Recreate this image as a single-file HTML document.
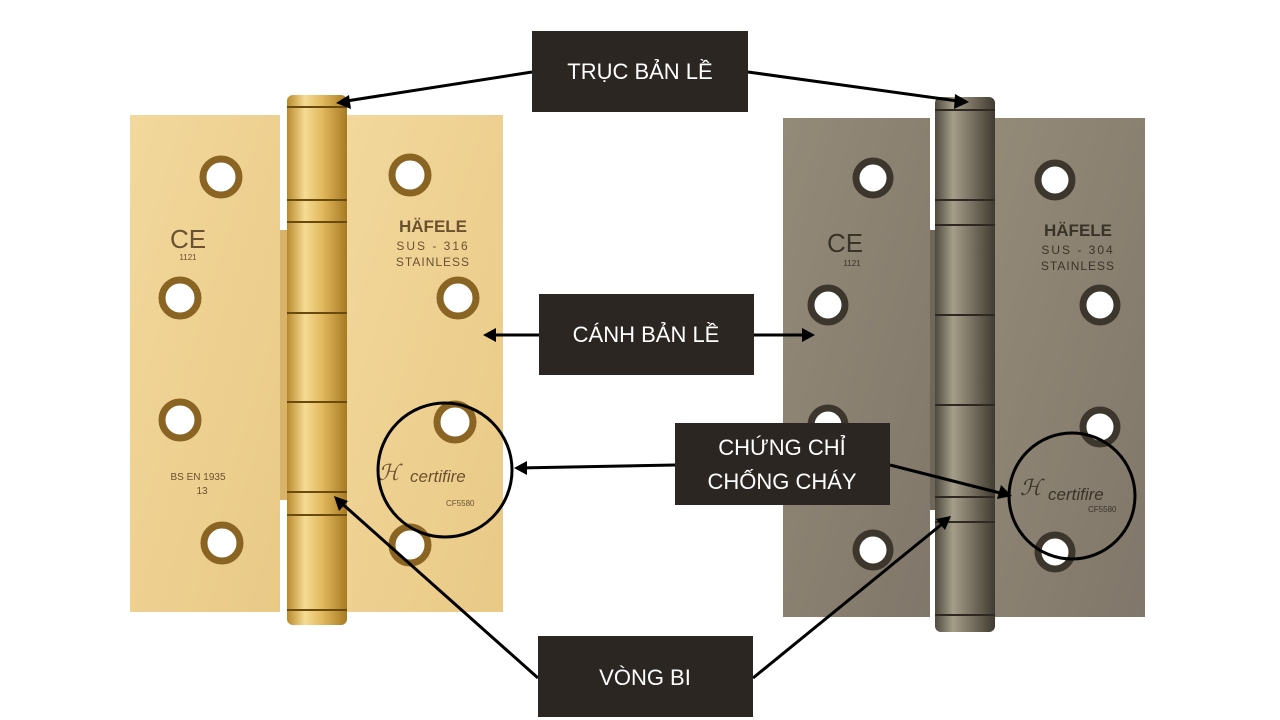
<!DOCTYPE html>
<html><head><meta charset="utf-8"><style>
html,body{margin:0;padding:0;background:#fff;}
svg{display:block}
text{font-family:"Liberation Sans",sans-serif}
</style></head><body>
<svg width="1280" height="720" viewBox="0 0 1280 720" xmlns="http://www.w3.org/2000/svg">
<defs>
<linearGradient id="gb" x1="0" x2="1" y1="0" y2="0">
<stop offset="0" stop-color="#b88a2e"/><stop offset="0.3" stop-color="#f6dc92"/><stop offset="0.6" stop-color="#e0b75c"/><stop offset="1" stop-color="#a77a22"/></linearGradient>
<linearGradient id="sb" x1="0" x2="1" y1="0" y2="0">
<stop offset="0" stop-color="#4e4a3e"/><stop offset="0.3" stop-color="#a59e8a"/><stop offset="0.6" stop-color="#7a7262"/><stop offset="1" stop-color="#3f3b31"/></linearGradient>
<linearGradient id="gl" x1="0" x2="1" y1="0" y2="1">
<stop offset="0" stop-color="#f2d89c"/><stop offset="1" stop-color="#e9c986"/></linearGradient>
<linearGradient id="sl" x1="0" x2="1" y1="0" y2="1">
<stop offset="0" stop-color="#948a78"/><stop offset="1" stop-color="#80776a"/></linearGradient>
</defs>
<!-- left hinge -->
<rect x="130" y="115" width="150" height="497" fill="url(#gl)"/>
<rect x="347" y="115" width="156" height="497" fill="url(#gl)"/>
<rect x="280" y="230" width="10" height="270" fill="#d9b36a"/>
<rect x="287" y="95" width="60" height="530" rx="6" fill="url(#gb)"/>
<g stroke="#6b4a12" stroke-width="2">
<line x1="287" y1="107" x2="347" y2="107"/><line x1="287" y1="200" x2="347" y2="200"/><line x1="287" y1="222" x2="347" y2="222"/>
<line x1="287" y1="313" x2="347" y2="313"/><line x1="287" y1="402" x2="347" y2="402"/><line x1="287" y1="492" x2="347" y2="492"/><line x1="287" y1="515" x2="347" y2="515"/><line x1="287" y1="610" x2="347" y2="610"/></g>
<g fill="#fff" stroke="#8a6422" stroke-width="7">
<circle cx="221" cy="177" r="18"/><circle cx="180" cy="298" r="18"/><circle cx="180" cy="420" r="18"/><circle cx="222" cy="543" r="18"/>
<circle cx="410" cy="175" r="18"/><circle cx="458" cy="298" r="18"/><circle cx="455" cy="422" r="18"/><circle cx="410" cy="545" r="18"/></g>
<g fill="#6a5230">
<text x="188" y="248" font-size="26" text-anchor="middle">CE</text>
<text x="188" y="260" font-size="8" text-anchor="middle">1121</text>
<text x="433" y="232" font-size="17" font-weight="bold" text-anchor="middle">HÄFELE</text>
<text x="433" y="250" font-size="12" text-anchor="middle" letter-spacing="2">SUS - 316</text>
<text x="433" y="266" font-size="12" text-anchor="middle" letter-spacing="1">STAINLESS</text>
<text x="198" y="480" font-size="10" text-anchor="middle">BS EN 1935</text>
<text x="202" y="494" font-size="10" text-anchor="middle">13</text>
<text x="410" y="482" font-size="17" font-style="italic">certifire</text>
<text x="446" y="506" font-size="8">CF5580</text>
<text x="378" y="480" font-size="22" font-style="italic">ℋ</text>
</g>
<!-- right hinge -->
<rect x="783" y="118" width="147" height="499" fill="url(#sl)"/>
<rect x="995" y="118" width="150" height="499" fill="url(#sl)"/>
<rect x="930" y="230" width="10" height="280" fill="#6f675a"/>
<rect x="935" y="97" width="60" height="535" rx="6" fill="url(#sb)"/>
<g stroke="#2e2a22" stroke-width="2">
<line x1="935" y1="110" x2="995" y2="110"/><line x1="935" y1="200" x2="995" y2="200"/><line x1="935" y1="225" x2="995" y2="225"/>
<line x1="935" y1="315" x2="995" y2="315"/><line x1="935" y1="405" x2="995" y2="405"/><line x1="935" y1="497" x2="995" y2="497"/><line x1="935" y1="522" x2="995" y2="522"/><line x1="935" y1="615" x2="995" y2="615"/></g>
<g fill="#fff" stroke="#3c362c" stroke-width="7">
<circle cx="873" cy="178" r="17"/><circle cx="828" cy="305" r="17"/><circle cx="828" cy="425" r="17"/><circle cx="873" cy="550" r="17"/>
<circle cx="1055" cy="180" r="17"/><circle cx="1100" cy="305" r="17"/><circle cx="1100" cy="427" r="17"/><circle cx="1055" cy="552" r="17"/></g>
<g fill="#3a3428">
<text x="845" y="252" font-size="26" text-anchor="middle">CE</text>
<text x="852" y="266" font-size="8" text-anchor="middle">1121</text>
<text x="1078" y="236" font-size="17" font-weight="bold" text-anchor="middle">HÄFELE</text>
<text x="1078" y="254" font-size="12" text-anchor="middle" letter-spacing="2">SUS - 304</text>
<text x="1078" y="270" font-size="12" text-anchor="middle" letter-spacing="1">STAINLESS</text>
<text x="1048" y="500" font-size="17" font-style="italic">certifire</text>
<text x="1088" y="512" font-size="8">CF5580</text>
<text x="1020" y="495" font-size="22" font-style="italic">ℋ</text>
</g>
<!-- callout circles -->
<circle cx="445" cy="470" r="67" fill="none" stroke="#000" stroke-width="3"/>
<circle cx="1072" cy="496" r="63" fill="none" stroke="#000" stroke-width="3"/>
<!-- arrows -->
<g stroke="#000" stroke-width="3" fill="none">
<line x1="532" y1="72" x2="340" y2="102"/><line x1="748" y1="72" x2="965" y2="102"/>
<line x1="539" y1="335" x2="487" y2="335"/><line x1="754" y1="335" x2="811" y2="335"/>
<line x1="675" y1="465" x2="518" y2="468"/><line x1="890" y1="465" x2="1008" y2="495"/>
<line x1="538" y1="678" x2="338" y2="500"/><line x1="753" y1="678" x2="947" y2="520"/>
</g>
<g fill="#000">
<polygon points="336,103 349,95 351,109"/>
<polygon points="969,102 955,94 954,109"/>
<polygon points="483,335 496,328 496,342"/>
<polygon points="815,335 802,328 802,342"/>
<polygon points="514,468 527,461 527,475"/>
<polygon points="1012,496 997,499 1001,485"/>
<polygon points="334,496 348,501 339,511"/>
<polygon points="951,516 945,530 936,519"/>
</g>
<!-- labels -->
<g fill="#2b2622">
<rect x="532" y="31" width="216" height="81"/>
<rect x="539" y="294" width="215" height="81"/>
<rect x="675" y="423" width="215" height="82"/>
<rect x="538" y="636" width="215" height="81"/>
</g>
<g fill="#fff" font-size="22" text-anchor="middle">
<text x="640" y="79">TRỤC BẢN LỀ</text>
<text x="646" y="342">CÁNH BẢN LỀ</text>
<text x="782" y="455">CHỨNG CHỈ</text>
<text x="782" y="489">CHỐNG CHÁY</text>
<text x="645" y="685">VÒNG BI</text>
</g>
</svg>
</body></html>
